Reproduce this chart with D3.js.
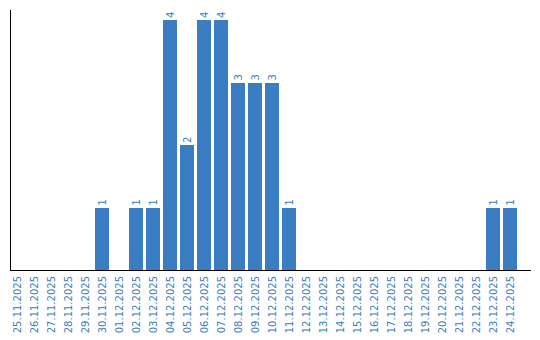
<!DOCTYPE html>
<html>
<head>
<meta charset="utf-8">
<script src="https://cdn.jsdelivr.net/npm/d3@7"></script>
<style>
  body { margin: 0; background: #fff; }
  text { font-family: "DejaVu Sans", sans-serif; font-size: 10px; fill: #3b7dc2; }
</style>
</head>
<body>
<svg id="svg"></svg>
<script>
// dates shown on the x axis
let dates = ["25.11.2025", "26.11.2025", "27.11.2025", "28.11.2025", "29.11.2025",
  "30.11.2025", "01.12.2025", "02.12.2025", "03.12.2025", "04.12.2025",
  "05.12.2025", "06.12.2025", "07.12.2025", "08.12.2025", "09.12.2025",
  "10.12.2025", "11.12.2025", "12.12.2025", "13.12.2025", "14.12.2025",
  "15.12.2025", "16.12.2025", "17.12.2025", "18.12.2025", "19.12.2025",
  "20.12.2025", "21.12.2025", "22.12.2025", "23.12.2025", "24.12.2025"];
// count per day
let counts = [0, 0, 0, 0, 0, 1, 0, 1, 1, 4, 2, 4, 4, 3, 3, 3, 1, 0, 0, 0, 0, 0, 0, 0, 0, 0, 0, 0, 1, 1];

let w = 540, h = 340;
let svg = d3.select("#svg").attr("width", w).attr("height", h);

let color = "#3b7dc2";

let x = d3.scaleBand()
  .domain(dates)
  .range([10, 517])
  .paddingInner(3 / 17)
  .paddingOuter(0);

let y = d3.scaleLinear()
  .domain([0, 4])
  .range([270, 20]);

let data = dates.map((d, i) => ({ date: d, value: counts[i] }));

// bars
svg.selectAll("rect.bar")
  .data(data.filter(d => d.value > 0))
  .enter()
  .append("rect")
  .attr("class", "bar")
  .attr("x", d => x(d.date))
  .attr("y", d => y(d.value))
  .attr("width", x.bandwidth())
  .attr("height", d => y(0) - y(d.value))
  .style("fill", color)
  .style("shape-rendering", "crispEdges");

// value labels, rotated
svg.selectAll("text.val")
  .data(data.filter(d => d.value > 0))
  .enter()
  .append("text")
  .attr("class", "val")
  .attr("transform", d => `translate(${x(d.date) + x.bandwidth() / 2 + 3.5},${y(d.value) - 2}) rotate(-90)`)
  .attr("text-anchor", "start")
  .text(d => d.value);

// axis lines
svg.append("line")
  .attr("x1", 10.5).attr("x2", 10.5)
  .attr("y1", 10).attr("y2", 271)
  .style("stroke", "#000").style("stroke-width", 1)
  .style("shape-rendering", "crispEdges");
svg.append("line")
  .attr("x1", 10).attr("x2", 531)
  .attr("y1", 270.5).attr("y2", 270.5)
  .style("stroke", "#000").style("stroke-width", 1)
  .style("shape-rendering", "crispEdges");

// date labels
svg.selectAll("text.date")
  .data(dates)
  .enter()
  .append("text")
  .attr("class", "date")
  .attr("transform", d => `translate(${x(d) + x.bandwidth() / 2 + 3.5},276) rotate(-90)`)
  .attr("text-anchor", "end")
  .text(d => d);
</script>
</body>
</html>
